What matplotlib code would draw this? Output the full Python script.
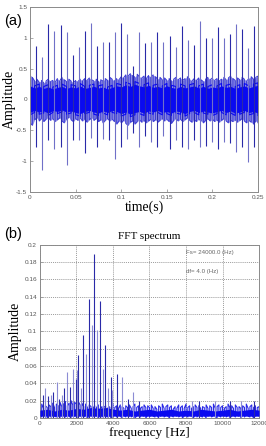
import numpy as np
import matplotlib
matplotlib.use("Agg")
import matplotlib.pyplot as plt

# ---------------- data: panel (a) time signal ----------------
spike_t = [0.0069, 0.0135, 0.0202, 0.0268, 0.0335, 0.0401, 0.0467, 0.0534, 0.0600,
           0.0667, 0.0733, 0.0799, 0.0866, 0.0932, 0.0999, 0.1065, 0.1131, 0.1198,
           0.1264, 0.1331, 0.1397, 0.1463, 0.1530, 0.1596, 0.1663, 0.1729, 0.1795,
           0.1862, 0.1928, 0.1995, 0.2061, 0.2127, 0.2194, 0.2260, 0.2327, 0.2393, 0.2459]
spike_pos = [0.87, 0.69, 1.23, 1.12, 1.21, 1.09, 0.72, 0.86, 1.12, 1.25, 0.87, 0.93,
             0.94, 1.10, 1.25, 1.07, 0.55, 1.10, 0.91, 0.94, 1.10, 0.93, 1.03, 0.86,
             1.20, 0.96, 0.89, 1.27, 1.00, 1.00, 1.17, 1.00, 1.07, 1.23, 1.14, 0.83, 1.20]
spike_neg = [-0.77, -1.14, -0.66, -0.81, -0.77, -1.07, -0.66, -0.66, -0.87, -0.63, -0.77,
             -0.65, -0.66, -0.96, -0.77, -0.65, -0.55, -0.77, -0.60, -0.69, -0.77, -0.60,
             -0.80, -0.66, -0.77, -0.80, -0.66, -0.77, -0.75, -0.69, -0.80, -0.69, -0.70,
             -0.85, -0.77, -1.01, -0.77]

band_t = [i * 0.0025 for i in range(101)]
band_up = [0.40, 0.36, 0.30, 0.33, 0.28, 0.31, 0.27, 0.30, 0.33, 0.29,
           0.31, 0.28, 0.34, 0.30, 0.36, 0.32, 0.29, 0.33, 0.30, 0.27,
           0.31, 0.29, 0.33, 0.30, 0.34, 0.31, 0.35, 0.32, 0.30, 0.33,
           0.29, 0.32, 0.30, 0.34, 0.31, 0.36, 0.33, 0.30, 0.34, 0.32,
           0.37, 0.35, 0.40, 0.38, 0.42, 0.39, 0.36, 0.41, 0.37, 0.35,
           0.38, 0.34, 0.39, 0.36, 0.40, 0.37, 0.33, 0.36, 0.32, 0.35,
           0.31, 0.34, 0.30, 0.33, 0.36, 0.32, 0.35, 0.31, 0.34, 0.37,
           0.33, 0.30, 0.34, 0.31, 0.35, 0.32, 0.29, 0.33, 0.36, 0.32,
           0.35, 0.31, 0.34, 0.30, 0.33, 0.36, 0.32, 0.35, 0.38, 0.34,
           0.31, 0.35, 0.32, 0.36, 0.33, 0.30, 0.34, 0.37, 0.33, 0.36, 0.38]
band_lo = [-0.38, -0.42, -0.33, -0.30, -0.35, -0.31, -0.36, -0.32, -0.29, -0.34,
           -0.31, -0.36, -0.33, -0.30, -0.35, -0.38, -0.32, -0.29, -0.33, -0.36,
           -0.31, -0.34, -0.30, -0.35, -0.32, -0.37, -0.33, -0.30, -0.34, -0.31,
           -0.36, -0.33, -0.38, -0.34, -0.31, -0.35, -0.32, -0.36, -0.40, -0.35,
           -0.38, -0.34, -0.39, -0.42, -0.37, -0.35, -0.40, -0.36, -0.33, -0.37,
           -0.34, -0.38, -0.35, -0.32, -0.36, -0.33, -0.37, -0.34, -0.31, -0.35,
           -0.32, -0.36, -0.39, -0.34, -0.31, -0.35, -0.32, -0.36, -0.33, -0.30,
           -0.34, -0.37, -0.33, -0.36, -0.32, -0.35, -0.38, -0.34, -0.31, -0.35,
           -0.32, -0.36, -0.33, -0.37, -0.34, -0.31, -0.35, -0.38, -0.34, -0.36,
           -0.33, -0.37, -0.34, -0.31, -0.35, -0.38, -0.34, -0.37, -0.40, -0.35, -0.38]
core_t = [i * 0.005 for i in range(51)]
core_up = [0.26, 0.22, 0.25, 0.21, 0.24, 0.20, 0.23, 0.25, 0.21, 0.24,
           0.22, 0.26, 0.21, 0.23, 0.25, 0.22, 0.24, 0.20, 0.23, 0.26,
           0.24, 0.28, 0.25, 0.29, 0.26, 0.24, 0.27, 0.23, 0.25, 0.22,
           0.26, 0.23, 0.21, 0.25, 0.22, 0.24, 0.26, 0.22, 0.25, 0.21,
           0.24, 0.22, 0.26, 0.23, 0.25, 0.21, 0.24, 0.26, 0.22, 0.25, 0.27]
core_lo = [-0.25, -0.21, -0.24, -0.22, -0.26, -0.21, -0.23, -0.20, -0.24, -0.22,
           -0.25, -0.27, -0.23, -0.21, -0.24, -0.26, -0.22, -0.25, -0.21, -0.23,
           -0.27, -0.24, -0.28, -0.25, -0.23, -0.26, -0.22, -0.24, -0.21, -0.25,
           -0.23, -0.26, -0.22, -0.24, -0.27, -0.23, -0.21, -0.25, -0.22, -0.24,
           -0.26, -0.23, -0.21, -0.25, -0.22, -0.26, -0.24, -0.21, -0.25, -0.23, -0.26]

a_xticks = [0, 0.05, 0.1, 0.15, 0.2, 0.25]
a_xticklabels = ["0", "0.05", "0.1", "0.15", "0.2", "0.25"]
a_yticks = [-1.5, -1, -0.5, 0, 0.5, 1, 1.5]
a_yticklabels = ["-1.5", "-1", "-0.5", "0", "0.5", "1", "1.5"]

# ---------------- data: panel (b) FFT spectrum ----------------
peak_f = [150, 290, 460, 585, 730, 910, 1060, 1190, 1330, 1480, 1640, 1790, 1950,
          2050, 2100, 2250, 2370, 2540, 2700, 2850, 2980, 3120, 3290, 3430, 3580,
          3740, 3890, 3960, 4200, 4490, 4800, 5100, 5400,
          8300, 8700, 9600, 10400, 11000, 11700]
peak_a = [0.026, 0.034, 0.025, 0.026, 0.030, 0.041, 0.022, 0.027, 0.034, 0.053, 0.036,
          0.056, 0.045, 0.055, 0.073, 0.035, 0.096, 0.074, 0.137, 0.107, 0.189, 0.102,
          0.135, 0.057, 0.084, 0.035, 0.047, 0.032, 0.051, 0.047, 0.022, 0.030, 0.020,
          0.020, 0.019, 0.020, 0.019, 0.020, 0.019]

floor_f = [i * 100 for i in range(121)]
floor_up = [0.013, 0.016, 0.011, 0.014, 0.012, 0.015, 0.013, 0.017, 0.012, 0.016,
            0.014, 0.018, 0.013, 0.016, 0.019, 0.014, 0.017, 0.020, 0.015, 0.018,
            0.016, 0.019, 0.015, 0.017, 0.013, 0.016, 0.012, 0.015, 0.013, 0.011,
            0.014, 0.012, 0.015, 0.011, 0.013, 0.012, 0.014, 0.011, 0.013, 0.012,
            0.016, 0.012, 0.014, 0.011, 0.015, 0.013, 0.011, 0.014, 0.012, 0.015,
            0.011, 0.013, 0.016, 0.012, 0.014, 0.011, 0.013, 0.015, 0.012, 0.014,
            0.012, 0.015, 0.011, 0.013, 0.010, 0.014, 0.012, 0.016, 0.011, 0.013,
            0.015, 0.012, 0.014, 0.010, 0.013, 0.011, 0.015, 0.012, 0.014, 0.011,
            0.016, 0.012, 0.014, 0.011, 0.013, 0.015, 0.012, 0.014, 0.011, 0.013,
            0.012, 0.015, 0.011, 0.014, 0.012, 0.016, 0.011, 0.013, 0.015, 0.012,
            0.014, 0.011, 0.013, 0.016, 0.012, 0.014, 0.011, 0.015, 0.012, 0.013,
            0.011, 0.014, 0.012, 0.016, 0.011, 0.013, 0.015, 0.012, 0.014, 0.012, 0.013]
floor_lo = [0.003, 0.001, 0.004, 0.002, 0.000, 0.003, 0.001, 0.004, 0.002, 0.001,
            0.003, 0.000, 0.002, 0.004, 0.001, 0.003, 0.002, 0.000, 0.004, 0.002,
            0.001, 0.003, 0.002, 0.004, 0.001, 0.003, 0.000, 0.002, 0.004, 0.001,
            0.003, 0.002, 0.000, 0.003, 0.001, 0.004, 0.002, 0.001, 0.003, 0.000,
            0.002, 0.004, 0.001, 0.003, 0.002, 0.000, 0.003, 0.001, 0.004, 0.002,
            0.001, 0.003, 0.000, 0.002, 0.004, 0.001, 0.003, 0.002, 0.000, 0.003,
            0.001, 0.004, 0.002, 0.001, 0.003, 0.000, 0.002, 0.004, 0.001, 0.003,
            0.002, 0.000, 0.003, 0.001, 0.004, 0.002, 0.001, 0.003, 0.000, 0.002,
            0.004, 0.001, 0.003, 0.002, 0.000, 0.003, 0.001, 0.004, 0.002, 0.001,
            0.003, 0.000, 0.002, 0.004, 0.001, 0.003, 0.002, 0.000, 0.003, 0.001,
            0.004, 0.002, 0.001, 0.003, 0.000, 0.002, 0.004, 0.001, 0.003, 0.002,
            0.000, 0.003, 0.001, 0.004, 0.002, 0.001, 0.003, 0.000, 0.002, 0.004, 0.002]
floor_core_f = [i * 400 for i in range(31)]
floor_core = [0.009, 0.010, 0.008, 0.010, 0.009, 0.011, 0.010, 0.012, 0.011, 0.012,
              0.010, 0.009, 0.010, 0.008, 0.009, 0.010, 0.008, 0.009, 0.010, 0.008,
              0.009, 0.008, 0.010, 0.009, 0.008, 0.009, 0.010, 0.008, 0.009, 0.010,
              0.009]

b_xticks = [0, 2000, 4000, 6000, 8000, 10000, 12000]
b_xticklabels = ["0", "2000", "4000", "6000", "8000", "10000", "12000"]
b_yticks = [0, 0.02, 0.04, 0.06, 0.08, 0.1, 0.12, 0.14, 0.16, 0.18, 0.2]
b_yticklabels = ["0", "0.02", "0.04", "0.06", "0.08", "0.1", "0.12", "0.14",
                 "0.16", "0.18", "0.2"]

fs_text = "Fs= 24000.0 (Hz)"
df_text = "df= 4.0 (Hz)"

# ---------------- figure ----------------
SERIF = ["Liberation Serif", "DejaVu Serif"]
SANS = ["Liberation Sans", "DejaVu Sans"]
TICKC = "#555555"
AXC = "#8a8a8a"


def zigzag(xs, ups, los):
    """Reorder envelope samples into a trace that alternates upper/lower values."""
    zx, zy = [], []
    for i, (x, u, l) in enumerate(zip(xs, ups, los)):
        zx += [x, x]
        zy += ([u, l] if i % 2 == 0 else [l, u])
    return zx, zy


fig = plt.figure(figsize=(2.66, 4.46), dpi=100)
fig.patch.set_facecolor("white")


def style_axes(ax):
    for s in ax.spines.values():
        s.set_color(AXC)
        s.set_linewidth(0.7)
    ax.tick_params(direction="in", length=2.5, width=0.5, colors=AXC,
                   labelcolor=TICKC, labelsize=4.6, pad=2)
    for lab in ax.get_xticklabels() + ax.get_yticklabels():
        lab.set_family(SANS)


# Panel (a)
ax1 = fig.add_axes([0.113, 0.570, 0.857, 0.414])
ax1.fill_between(band_t, band_lo, band_up, color="#8c8ce4", lw=0, zorder=1)
zx, zy = zigzag(band_t, band_up, band_lo)
ax1.plot(zx, zy, color="#3a3ad8", lw=0.7, zorder=1.5)
cx, cy = zigzag(core_t, core_up, core_lo)
ax1.fill_between(core_t, [v * 0.85 for v in core_lo], [v * 0.85 for v in core_up],
                 color="#0a0af0", lw=0, zorder=2)
ax1.plot(cx, cy, color="#0a0af0", lw=0.8, zorder=2)
for i, (t, p, n) in enumerate(zip(spike_t, spike_pos, spike_neg)):
    c = "#2a2aa8" if i % 2 == 0 else "#7070c8"
    ax1.vlines(t, n, p, color=c, lw=0.8, zorder=3)
ax1.set_xlim(0, 0.25)
ax1.set_ylim(-1.5, 1.5)
ax1.set_xticks(a_xticks)
ax1.set_xticklabels(a_xticklabels)
ax1.set_yticks(a_yticks)
ax1.set_yticklabels(a_yticklabels)
style_axes(ax1)
ax1.set_xlabel("time(s)", family=SERIF, fontsize=10, labelpad=1)
ax1.set_ylabel("Amplitude", family=SERIF, fontsize=10, labelpad=0)

fig.text(0.015, 0.953, "(a)", family=SANS, fontsize=10.5, va="center", ha="left")

# Panel (b)
ax2 = fig.add_axes([0.150, 0.063, 0.824, 0.388])
ax2.grid(True, color="#777777", linestyle=(0, (1.5, 1.5)), linewidth=0.5)
ax2.set_axisbelow(True)
fx, fy = zigzag(floor_f, floor_up, floor_lo)
ax2.plot(fx, fy, color="#2a2ae6", lw=0.8, zorder=2)
ax2.fill_between(floor_core_f, 0.002, floor_core, color="#0a0af0", lw=0, zorder=3)
for i, (f, a) in enumerate(zip(peak_f, peak_a)):
    c = "#2a2aa8" if i % 2 == 0 else "#8c8cd4"
    ax2.vlines(f, 0, a, color=c, lw=0.8, zorder=4)
ax2.set_xlim(0, 12000)
ax2.set_ylim(0, 0.2)
ax2.set_xticks(b_xticks)
ax2.set_xticklabels(b_xticklabels)
ax2.set_yticks(b_yticks)
ax2.set_yticklabels(b_yticklabels)
style_axes(ax2)
ax2.set_xlabel("frequency [Hz]", family=SERIF, fontsize=9.5, labelpad=1)
ax2.set_ylabel("Amplitude", family=SERIF, fontsize=10, labelpad=2)
ax2.set_title("FFT spectrum", family=SERIF, fontsize=8, pad=4)
ax2.text(0.667, 0.955, fs_text, transform=ax2.transAxes, family=SANS,
         fontsize=4.4, color="#666666", va="center", ha="left")
ax2.text(0.667, 0.845, df_text, transform=ax2.transAxes, family=SANS,
         fontsize=4.4, color="#666666", va="center", ha="left")

fig.text(0.015, 0.475, "(b)", family=SANS, fontsize=10.5, va="center", ha="left")

fig.savefig("out.png", dpi=100)
